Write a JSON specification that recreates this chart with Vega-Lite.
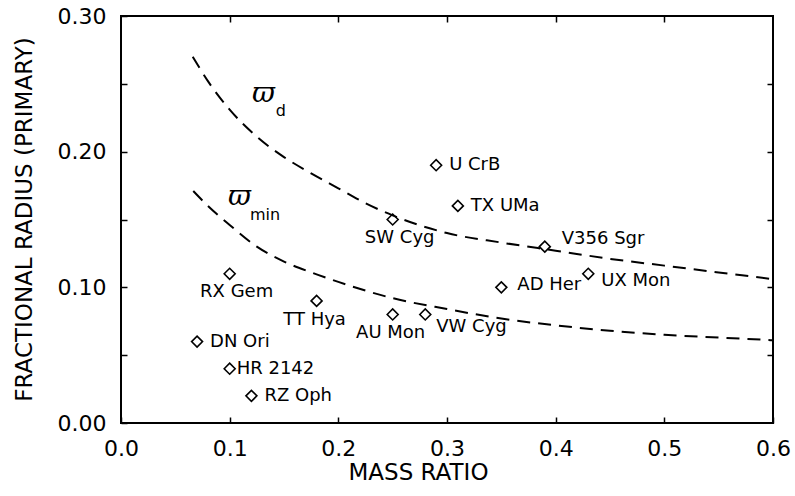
{
  "$schema": "https://vega.github.io/schema/vega-lite/v6.json",
  "width": 652,
  "height": 407,
  "autosize": {"type": "none"},
  "padding": {"left": 121, "top": 16, "right": 22, "bottom": 73},
  "background": "white",
  "config": {
    "view": {"stroke": "black", "strokeWidth": 2},
    "font": "DejaVu Sans",
    "axis": {
      "domain": false,
      "grid": false,
      "tickColor": "black",
      "tickWidth": 1.5,
      "tickSize": -6,
      "labelColor": "black",
      "labelFont": "DejaVu Sans",
      "labelFontSize": 22,
      "titleFont": "DejaVu Sans",
      "titleFontSize": 23,
      "titleFontWeight": "normal",
      "titleColor": "black"
    }
  },
  "datasets": {
    "stars": [
      {"name": "U CrB", "q": 0.29, "r": 0.19},
      {"name": "TX UMa", "q": 0.31, "r": 0.16},
      {"name": "SW Cyg", "q": 0.25, "r": 0.15},
      {"name": "V356 Sgr", "q": 0.39, "r": 0.13},
      {"name": "UX Mon", "q": 0.43, "r": 0.11},
      {"name": "AD Her", "q": 0.35, "r": 0.10},
      {"name": "VW Cyg", "q": 0.28, "r": 0.08},
      {"name": "AU Mon", "q": 0.25, "r": 0.08},
      {"name": "RX Gem", "q": 0.10, "r": 0.11},
      {"name": "TT Hya", "q": 0.18, "r": 0.09},
      {"name": "DN Ori", "q": 0.07, "r": 0.06},
      {"name": "HR 2142", "q": 0.10, "r": 0.04},
      {"name": "RZ Oph", "q": 0.12, "r": 0.02}
    ],
    "curves": [
      {"curve": "d", "q": 0.066, "r": 0.270},
      {"curve": "d", "q": 0.08, "r": 0.252},
      {"curve": "d", "q": 0.10, "r": 0.231},
      {"curve": "d", "q": 0.125, "r": 0.211},
      {"curve": "d", "q": 0.15, "r": 0.196},
      {"curve": "d", "q": 0.175, "r": 0.184},
      {"curve": "d", "q": 0.20, "r": 0.173},
      {"curve": "d", "q": 0.225, "r": 0.162},
      {"curve": "d", "q": 0.25, "r": 0.153},
      {"curve": "d", "q": 0.30, "r": 0.140},
      {"curve": "d", "q": 0.35, "r": 0.133},
      {"curve": "d", "q": 0.40, "r": 0.127},
      {"curve": "d", "q": 0.45, "r": 0.121},
      {"curve": "d", "q": 0.50, "r": 0.116},
      {"curve": "d", "q": 0.55, "r": 0.111},
      {"curve": "d", "q": 0.60, "r": 0.106},
      {"curve": "min", "q": 0.0665, "r": 0.171},
      {"curve": "min", "q": 0.08, "r": 0.160},
      {"curve": "min", "q": 0.10, "r": 0.146},
      {"curve": "min", "q": 0.125, "r": 0.130},
      {"curve": "min", "q": 0.15, "r": 0.119},
      {"curve": "min", "q": 0.175, "r": 0.111},
      {"curve": "min", "q": 0.20, "r": 0.104},
      {"curve": "min", "q": 0.25, "r": 0.092},
      {"curve": "min", "q": 0.30, "r": 0.084},
      {"curve": "min", "q": 0.35, "r": 0.077},
      {"curve": "min", "q": 0.40, "r": 0.072},
      {"curve": "min", "q": 0.45, "r": 0.068},
      {"curve": "min", "q": 0.50, "r": 0.065},
      {"curve": "min", "q": 0.55, "r": 0.063},
      {"curve": "min", "q": 0.60, "r": 0.061}
    ],
    "symbols": [
      {"text": "ϖ", "q": 0.1206, "r": 0.2366},
      {"text": "ϖ", "q": 0.0985, "r": 0.1607}
    ],
    "subs": [
      {"text": "d", "q": 0.1425, "r": 0.2265},
      {"text": "min", "q": 0.1187, "r": 0.1496}
    ]
  },
  "layer": [
    {
      "data": {"name": "curves"},
      "mark": {"type": "line", "stroke": "black", "strokeWidth": 2, "strokeDash": [13, 8], "interpolate": "monotone"},
      "encoding": {
        "x": {"field": "q", "type": "quantitative", "scale": {"domain": [0, 0.6], "nice": false, "zero": false},
          "axis": {"orient": "bottom", "values": [0, 0.1, 0.2, 0.3, 0.4, 0.5, 0.6], "format": ".1f", "labelPadding": 21, "labelFlush": false, "labelOverlap": false,
            "title": "MASS RATIO", "titleX": 297, "titleY": 56, "titleBaseline": "alphabetic", "titleAlign": "center", "titleAnchor": null}},
        "y": {"field": "r", "type": "quantitative", "scale": {"domain": [0, 0.3], "nice": false, "zero": false},
          "axis": {"orient": "left", "values": [0, 0.05, 0.1, 0.15, 0.2, 0.25, 0.3], "labelExpr": "round(datum.value*100) % 10 == 0 ? format(datum.value, '.2f') : ''", "labelPadding": 21, "labelFlush": false, "labelOverlap": false,
            "title": "FRACTIONAL RADIUS (PRIMARY)", "titleX": -90, "titleY": 203, "titleBaseline": "alphabetic", "titleAlign": "center", "titleAngle": -90, "titleAnchor": null}},
        "detail": {"field": "curve"}
      }
    },
    {
      "data": {"name": "stars"},
      "mark": {"type": "point", "shape": "diamond", "size": 120, "stroke": "black", "strokeWidth": 1.6, "filled": false, "opacity": 1},
      "encoding": {
        "x": {"field": "q", "type": "quantitative", "axis": {"orient": "top", "values": [0.1, 0.2, 0.3, 0.4, 0.5], "labels": false, "title": null}},
        "y": {"field": "r", "type": "quantitative", "axis": {"orient": "right", "values": [0.05, 0.1, 0.15, 0.2, 0.25], "labels": false, "title": null}}
      }
    },
    {
      "data": {"name": "stars"},
      "transform": [{"filter": {"field": "name", "oneOf": ["U CrB", "TX UMa", "DN Ori", "RZ Oph"]}}],
      "mark": {"type": "text", "align": "left", "baseline": "middle", "dx": 13, "fontSize": 18, "font": "DejaVu Sans", "color": "black"},
      "encoding": {"x": {"field": "q", "type": "quantitative", "axis": null}, "y": {"field": "r", "type": "quantitative", "axis": null}, "text": {"field": "name"}}
    },
    {
      "data": {"name": "stars"},
      "transform": [{"filter": {"field": "name", "equal": "HR 2142"}}],
      "mark": {"type": "text", "align": "left", "baseline": "middle", "dx": 7, "fontSize": 18, "font": "DejaVu Sans", "color": "black"},
      "encoding": {"x": {"field": "q", "type": "quantitative", "axis": null}, "y": {"field": "r", "type": "quantitative", "axis": null}, "text": {"field": "name"}}
    },
    {
      "data": {"name": "stars"},
      "transform": [{"filter": {"field": "name", "equal": "AD Her"}}],
      "mark": {"type": "text", "align": "left", "baseline": "middle", "dx": 16, "dy": -2, "fontSize": 18, "font": "DejaVu Sans", "color": "black"},
      "encoding": {"x": {"field": "q", "type": "quantitative", "axis": null}, "y": {"field": "r", "type": "quantitative", "axis": null}, "text": {"field": "name"}}
    },
    {
      "data": {"name": "stars"},
      "transform": [{"filter": {"field": "name", "equal": "V356 Sgr"}}],
      "mark": {"type": "text", "align": "left", "baseline": "middle", "dx": 17, "dy": -8, "fontSize": 18, "font": "DejaVu Sans", "color": "black"},
      "encoding": {"x": {"field": "q", "type": "quantitative", "axis": null}, "y": {"field": "r", "type": "quantitative", "axis": null}, "text": {"field": "name"}}
    },
    {
      "data": {"name": "stars"},
      "transform": [{"filter": {"field": "name", "equal": "UX Mon"}}],
      "mark": {"type": "text", "align": "left", "baseline": "middle", "dx": 13, "dy": 7, "fontSize": 18, "font": "DejaVu Sans", "color": "black"},
      "encoding": {"x": {"field": "q", "type": "quantitative", "axis": null}, "y": {"field": "r", "type": "quantitative", "axis": null}, "text": {"field": "name"}}
    },
    {
      "data": {"name": "stars"},
      "transform": [{"filter": {"field": "name", "equal": "VW Cyg"}}],
      "mark": {"type": "text", "align": "left", "baseline": "middle", "dx": 11, "dy": 13, "fontSize": 18, "font": "DejaVu Sans", "color": "black"},
      "encoding": {"x": {"field": "q", "type": "quantitative", "axis": null}, "y": {"field": "r", "type": "quantitative", "axis": null}, "text": {"field": "name"}}
    },
    {
      "data": {"name": "stars"},
      "transform": [{"filter": {"field": "name", "oneOf": ["AU Mon", "TT Hya"]}}],
      "mark": {"type": "text", "align": "center", "baseline": "middle", "dx": -2, "dy": 19, "fontSize": 18, "font": "DejaVu Sans", "color": "black"},
      "encoding": {"x": {"field": "q", "type": "quantitative", "axis": null}, "y": {"field": "r", "type": "quantitative", "axis": null}, "text": {"field": "name"}}
    },
    {
      "data": {"name": "stars"},
      "transform": [{"filter": {"field": "name", "oneOf": ["RX Gem", "SW Cyg"]}}],
      "mark": {"type": "text", "align": "center", "baseline": "middle", "dx": 7, "dy": 18, "fontSize": 18, "font": "DejaVu Sans", "color": "black"},
      "encoding": {"x": {"field": "q", "type": "quantitative", "axis": null}, "y": {"field": "r", "type": "quantitative", "axis": null}, "text": {"field": "name"}}
    },
    {
      "data": {"name": "symbols"},
      "mark": {"type": "text", "align": "left", "baseline": "alphabetic", "fontSize": 28, "font": "DejaVu Serif", "fontStyle": "italic", "color": "black"},
      "encoding": {"x": {"field": "q", "type": "quantitative", "axis": null}, "y": {"field": "r", "type": "quantitative", "axis": null}, "text": {"field": "text"}}
    },
    {
      "data": {"name": "subs"},
      "mark": {"type": "text", "align": "left", "baseline": "alphabetic", "fontSize": 16, "font": "DejaVu Sans", "color": "black"},
      "encoding": {"x": {"field": "q", "type": "quantitative", "axis": null}, "y": {"field": "r", "type": "quantitative", "axis": null}, "text": {"field": "text"}}
    }
  ],
  "resolve": {"axis": {"x": "independent", "y": "independent"}}
}
